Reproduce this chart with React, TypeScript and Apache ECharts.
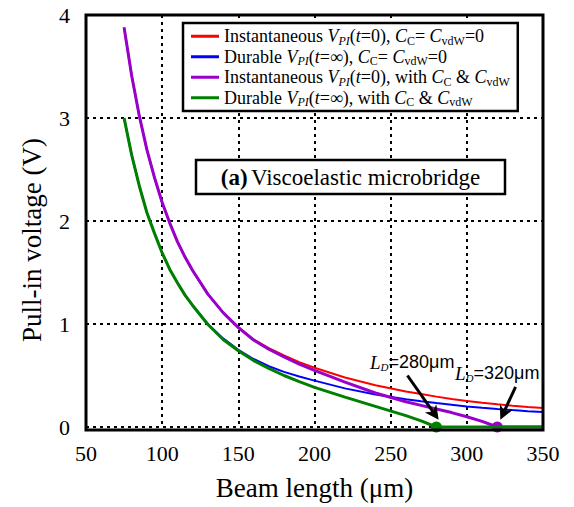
import React, { useEffect, useRef } from "react";
import * as echarts from "echarts";

// Beam length (μm)
const lengths = [75, 80, 85, 90, 95, 100, 105, 110, 115, 120, 130, 140, 150, 160, 170, 180, 190, 200, 220, 240, 260, 270, 280, 290, 300, 310, 320, 330, 340, 350];

// Pull-in voltage (V)
const instantNoC = [3.88, 3.41, 3.02, 2.69, 2.42, 2.18, 1.98, 1.80, 1.65, 1.52, 1.29, 1.11, 0.97, 0.85, 0.765, 0.695, 0.63, 0.575, 0.48, 0.405, 0.345, 0.32, 0.295, 0.272, 0.252, 0.235, 0.22, 0.206, 0.194, 0.185];
const durableNoC = [3.00, 2.64, 2.34, 2.08, 1.88, 1.69, 1.53, 1.40, 1.28, 1.18, 1.00, 0.86, 0.75, 0.66, 0.59, 0.535, 0.49, 0.45, 0.375, 0.315, 0.27, 0.25, 0.232, 0.216, 0.20, 0.187, 0.175, 0.164, 0.154, 0.145];
const instantWithC = [3.88, 3.41, 3.02, 2.69, 2.42, 2.18, 1.98, 1.80, 1.65, 1.52, 1.29, 1.11, 0.965, 0.845, 0.755, 0.68, 0.61, 0.55, 0.435, 0.33, 0.245, 0.21, 0.175, 0.14, 0.10, 0.055, 0, 0, 0, 0];
const durableWithC = [3.00, 2.64, 2.34, 2.08, 1.88, 1.69, 1.53, 1.40, 1.28, 1.18, 0.995, 0.85, 0.74, 0.645, 0.57, 0.50, 0.44, 0.385, 0.29, 0.20, 0.11, 0.06, 0, 0, 0, 0, 0, 0, 0, 0];

const seriesNames = [
  "Instantaneous VPI(t=0), CC= CvdW=0",
  "Durable VPI(t=∞), CC= CvdW=0",
  "Instantaneous VPI(t=0), with CC & CvdW",
  "Durable VPI(t=∞), with CC & CvdW",
];
const legendRich = [
  "{n|Instantaneous }{i|V}{si|PI}{n|(}{i|t}{n|=0), }{i|C}{s|C}{n|= }{i|C}{s|vdW}{n|=0}",
  "{n|Durable }{i|V}{si|PI}{n|(}{i|t}{n|=∞), }{i|C}{s|C}{n|= }{i|C}{s|vdW}{n|=0}",
  "{n|Instantaneous }{i|V}{si|PI}{n|(}{i|t}{n|=0), with }{i|C}{s|C}{n| & }{i|C}{s|vdW}",
  "{n|Durable }{i|V}{si|PI}{n|(}{i|t}{n|=∞), with }{i|C}{s|C}{n| & }{i|C}{s|vdW}",
];
const colors = ["#ff0000", "#0000ff", "#9900cc", "#008000"];
const widths = [2, 2, 3, 3];

const detachGreen = 280;
const detachPurple = 320;
// arrow start / tip, in data coordinates (μm, V)
const arrowGreen = [[261, 0.5], [281.5, 0.07]];
const arrowPurple = [[332, 0.39], [322, 0.07]];

const xTicks = { min: 50, max: 350, interval: 50 };
const yTicks = { min: 0, max: 4, interval: 1 };

const SERIF = "Liberation Serif";
const SANS = "Liberation Sans";

export default function App() {
  const ref = useRef<HTMLDivElement>(null);
  useEffect(() => {
    if (!ref.current) return;
    const chart = echarts.init(ref.current, undefined, { renderer: "svg" });
    const valueSets = [instantNoC, durableNoC, instantWithC, durableWithC];
    const pairs = (ys: number[]) => lengths.map((x, i) => [x, ys[i]]);
    const series: any[] = valueSets.map((ys, k) => ({
      type: "line",
      name: seriesNames[k],
      data: pairs(ys),
      symbol: "none",
      clip: false,
      lineStyle: { color: colors[k], width: widths[k] },
      itemStyle: { color: colors[k] },
      z: 2 + k,
    }));
    const dot = (x: number, c: string) => ({
      silent: true,
      symbol: "circle",
      symbolSize: 11,
      itemStyle: { color: c },
      label: { show: false },
      data: [{ coord: [x, 0] }],
    });
    series[2].markPoint = dot(detachPurple, colors[2]);
    series[3].markPoint = dot(detachGreen, colors[3]);

    const dash = { color: "#000", type: [3, 4], width: 2 };
    const ldRich = {
      L: { fontFamily: SERIF, fontSize: 19, fontStyle: "italic", fill: "#000", lineHeight: 20 },
      D: { fontFamily: SERIF, fontSize: 11, fontStyle: "italic", fill: "#000", lineHeight: 12, verticalAlign: "bottom" },
      n: { fontFamily: SANS, fontSize: 18, fill: "#000", lineHeight: 20 },
    };
    const option: any = {
      animation: false,
      grid: { left: 86, right: 31, top: 15, bottom: 80, show: false },
      xAxis: {
        type: "value", ...xTicks,
        axisLine: { show: false }, axisTick: { show: false },
        axisLabel: { fontFamily: SERIF, fontSize: 22, color: "#000", margin: 15 },
        splitLine: { show: true, lineStyle: dash },
        name: "Beam length (μm)", nameLocation: "middle", nameGap: 47,
        nameTextStyle: { fontFamily: SERIF, fontSize: 27, color: "#000" },
      },
      yAxis: {
        type: "value", ...yTicks,
        axisLine: { show: false }, axisTick: { show: false },
        axisLabel: { fontFamily: SERIF, fontSize: 22, color: "#000", margin: 16 },
        splitLine: { show: true, lineStyle: dash },
      },
      legend: {
        orient: "vertical", left: 183, top: 23,
        padding: [3, 8, 3, 8], itemGap: 0, itemWidth: 28, itemHeight: 3,
        icon: "rect",
        backgroundColor: "#fff", borderColor: "#000", borderWidth: 2.5,
        data: seriesNames,
        formatter: (name: string) => legendRich[seriesNames.indexOf(name)],
        textStyle: {
          fontFamily: SERIF, fontSize: 18, color: "#000", lineHeight: 20.5,
          rich: {
            n: { fontFamily: SERIF, fontSize: 18, color: "#000", lineHeight: 20.5 },
            i: { fontFamily: SERIF, fontSize: 18, fontStyle: "italic", color: "#000", lineHeight: 20.5 },
            si: { fontFamily: SERIF, fontSize: 12, fontStyle: "italic", color: "#000", lineHeight: 13, verticalAlign: "bottom" },
            s: { fontFamily: SERIF, fontSize: 12, color: "#000", lineHeight: 13, verticalAlign: "bottom" },
          },
        },
      },
      graphic: [
        {
          type: "rect", id: "frame", z: 90, silent: true,
          shape: { x: 86, y: 15, width: 457, height: 415 },
          style: { fill: "none", stroke: "#000", lineWidth: 3 },
        },
        {
          type: "text", id: "ytitle", x: 32, y: 240, rotation: Math.PI / 2, z: 100,
          style: { text: "Pull-in voltage (V)", fontFamily: SERIF, fontSize: 27, fill: "#000", align: "center", verticalAlign: "middle" },
        },
        {
          type: "group", id: "titlebox", x: 196, y: 160, z: 100,
          children: [
            { type: "rect", shape: { x: 0, y: 0, width: 309, height: 34 }, style: { fill: "#fff", stroke: "#000", lineWidth: 2.5 }, z: 100 },
            {
              type: "text", x: 154.5, y: 17, z: 101,
              style: {
                text: "{b|(a)} {n|Viscoelastic microbridge}", align: "center", verticalAlign: "middle",
                rich: {
                  b: { fontFamily: SERIF, fontSize: 23, fontWeight: "bold", fill: "#000" },
                  n: { fontFamily: SERIF, fontSize: 23, fill: "#000" },
                },
              },
            },
          ],
        },
        {
          type: "text", id: "ld1", x: 370, y: 352, z: 100,
          style: { text: "{L|L}{D|D}{n|=280μm}", align: "left", verticalAlign: "top", rich: ldRich },
        },
        {
          type: "text", id: "ld2", x: 455, y: 363, z: 100,
          style: { text: "{L|L}{D|D}{n|=320μm}", align: "left", verticalAlign: "top", rich: ldRich },
        },
      ],
      series,
    };
    chart.setOption(option);

    // arrows: positions converted from data coordinates through the grid's scales
    const arrowEls = (id: string, pts: number[][]) => {
      const p0 = chart.convertToPixel({ gridIndex: 0 }, pts[0]) as number[];
      const p1 = chart.convertToPixel({ gridIndex: 0 }, pts[1]) as number[];
      const dx = p1[0] - p0[0], dy = p1[1] - p0[1];
      const len = Math.hypot(dx, dy);
      const ux = dx / len, uy = dy / len;
      const nx = -uy, ny = ux;
      const hl = 14, hw = 7, notch = 4;
      const bx = p1[0] - ux * hl, by = p1[1] - uy * hl;
      return [
        {
          type: "line", id: id + "-shaft", z: 95, silent: true,
          shape: { x1: p0[0], y1: p0[1], x2: p1[0] - ux * (hl - notch), y2: p1[1] - uy * (hl - notch) },
          style: { stroke: "#000", lineWidth: 3 },
        },
        {
          type: "polygon", id: id + "-head", z: 95, silent: true,
          shape: {
            points: [
              [p1[0], p1[1]],
              [bx + nx * hw, by + ny * hw],
              [p1[0] - ux * (hl - notch), p1[1] - uy * (hl - notch)],
              [bx - nx * hw, by - ny * hw],
            ],
          },
          style: { fill: "#000" },
        },
      ];
    };
    chart.setOption({
      graphic: [...arrowEls("a1", arrowGreen), ...arrowEls("a2", arrowPurple)],
    });
    return () => chart.dispose();
  }, []);
  return <div ref={ref} style={{ position: "fixed", left: 0, top: 0, width: 574, height: 507, background: "#fff" }} />;
}
